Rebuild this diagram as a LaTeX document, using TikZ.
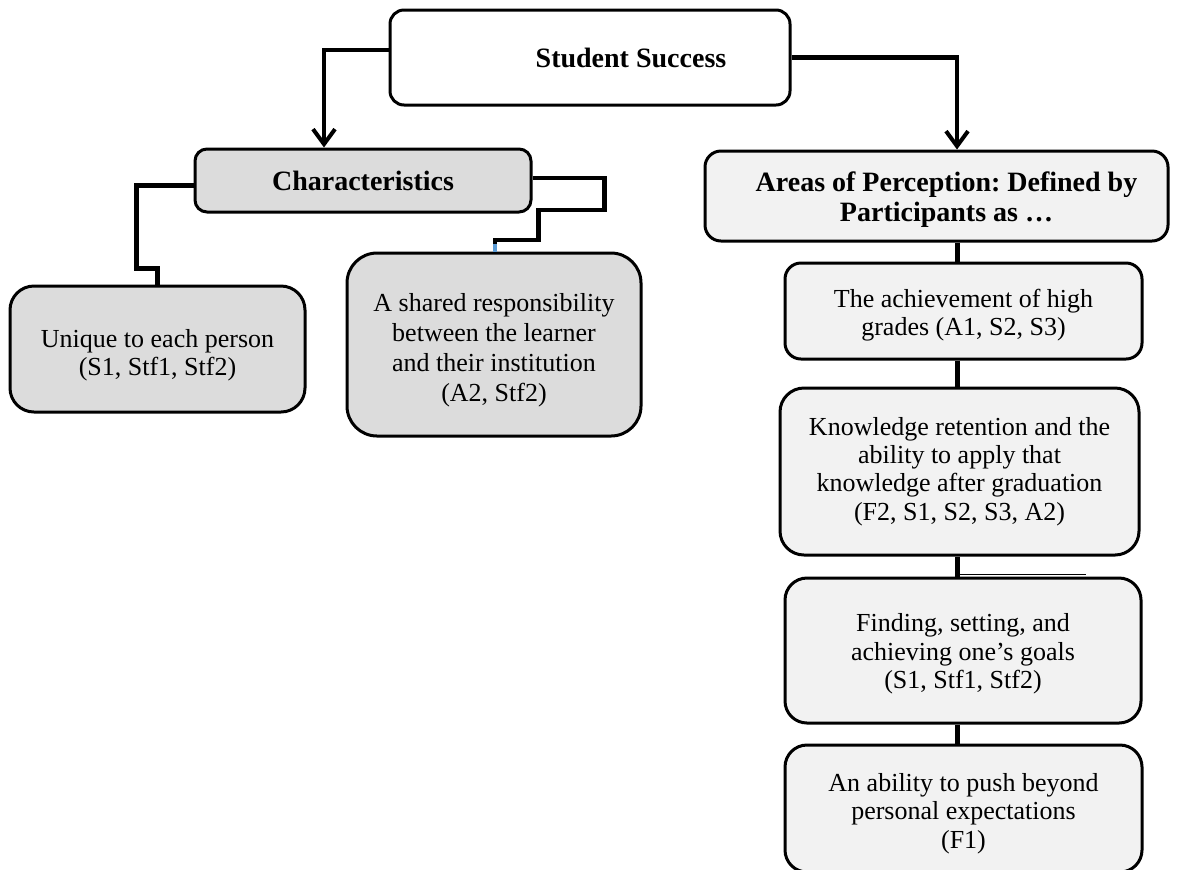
\documentclass[tikz,border=0pt]{standalone}
\usepackage{fontspec}
\setmainfont{Liberation Serif}
\usetikzlibrary{arrows.meta,calc}
\frenchspacing
\definecolor{boxgrey}{HTML}{DCDCDC}
\definecolor{boxlight}{HTML}{F2F2F2}
\definecolor{tickblue}{HTML}{5B9BD5}
% a strut on the first line of a box, to set the text a little lower
\newcommand\firststrut[1]{\rule{0pt}{#1}}
\tikzset{
  box/.style={draw=black, line width=1.5pt, align=center, inner sep=0pt,
    font=\fontsize{13}{14.2}\selectfont},
  headbox/.style={box, font=\bfseries\fontsize{14}{15}\selectfont},
  greybox/.style={box, fill=boxgrey},
  lightbox/.style={box, fill=boxlight},
  conn/.style={line width=2.2pt, draw=black},
  arr/.style={conn, -{Straight Barb[length=7.5pt,width=11pt,line width=2pt]}},
  strayline/.style={line width=0.8pt, draw=black},
}
\begin{document}
\begin{tikzpicture}[x=0.5pt, y=-0.5pt]
  \useasboundingbox (0,0) rectangle (1181,869);
  \fill[white] (0,0) rectangle (1181,869);

  % top node
  \node[box, fill=white, rounded corners=7pt, minimum width=200pt, minimum height=47.5pt] (ss) at (590,57.5) {};
  \node[font=\bfseries\fontsize{14}{15}\selectfont, inner sep=0pt] (sstext) at (631,58) {Student Success};

  % left branch
  \node[headbox, fill=boxgrey, rounded corners=6pt, minimum width=168pt, minimum height=31.5pt] (ch) at (363,180.5) {Characteristics};
  \node[greybox, rounded corners=12pt, minimum width=147.5pt, minimum height=63pt] (un) at (157.5,349)
    {\firststrut{15pt}Unique to each person\\(S1, Stf1, Stf2)};
  \node[greybox, rounded corners=15pt, minimum width=147pt, minimum height=91.5pt,
        font=\fontsize{13}{15}\selectfont] (sh) at (494,344.5)
    {\firststrut{15pt}A shared responsibility\\between the learner\\and their institution\\(A2, Stf2)};

  % right branch
  \node[headbox, fill=boxlight, rounded corners=8pt, minimum width=231.5pt, minimum height=45pt] (ap) at (936.5,196)
    {\firststrut{13.5pt}\hspace*{10pt}Areas of Perception: Defined by\\\hspace*{10pt}Participants as …};
  \node[lightbox, rounded corners=8pt, minimum width=178.5pt, minimum height=48pt] (a1) at (963.5,311)
    {\firststrut{13.5pt}The achievement of high\\grades (A1, S2, S3)};
  \node[lightbox, rounded corners=12pt, minimum width=179.5pt, minimum height=83.5pt] (a2) at (959.5,471.5)
    {Knowledge retention and the\\ability to apply that\\knowledge after graduation\\(F2, S1, S2, S3, A2)};
  \node[lightbox, rounded corners=11pt, minimum width=178pt, minimum height=72.5pt] (a3) at (963,650.5)
    {\firststrut{12.5pt}Finding, setting, and\\achieving one’s goals\\(S1, Stf1, Stf2)};
  \node[lightbox, rounded corners=11pt, minimum width=178.5pt, minimum height=63.5pt] (a4) at (963.5,808.5)
    {\firststrut{14pt}An ability to push beyond\\personal expectations\\(F1)};

  % connectors from the top node
  \draw[arr] ([yshift=3.75pt]ss.west) -| ([xshift=-19.5pt]ch.north);
  \draw[arr] (ss.east) -| ([xshift=10.25pt]ap.north);

  % connectors of the left branch
  \draw[conn] ([yshift=-2.5pt]ch.west) -| ++(-57,83) -| (un.north);
  \draw[conn] ([yshift=1.25pt]ch.east) -- ++(72,0) -- ++(0,32) -- ++(-66,0) -- ++(0,30) -| ([xshift=0.5pt]sh.north);
  \draw[tickblue, line width=1.6pt] ([xshift=0.5pt]sh.north) -- ++(0,-8);

  % vertical chain of the right branch
  \coordinate (cx) at (957.5,0);
  \draw[conn] (ap.south -| cx) -- (a1.north -| cx);
  \draw[conn] (a1.south -| cx) -- (a2.north -| cx);
  \draw[conn] (a2.south -| cx) -- (a3.north -| cx);
  \draw[conn] (a3.south -| cx) -- (a4.north -| cx);
  \draw[strayline] ([yshift=1pt]a3.north -| cx) -- ++(128,0);
\end{tikzpicture}
\end{document}
